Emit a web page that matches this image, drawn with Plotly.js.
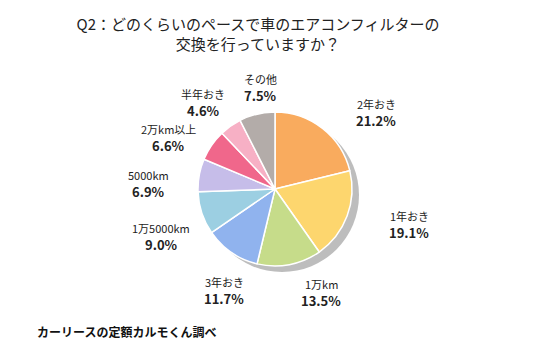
<!DOCTYPE html>
<html>
<head>
<meta charset="utf-8">
<script src="https://cdn.plot.ly/plotly-3.0.1.min.js"></script>
<style>html,body{margin:0;padding:0;background:#fff;}#chart{width:550px;height:351px;}</style>
</head>
<body>
<div id="chart"></div>
<script>
const categories = ["2年おき", "1年おき", "1万km", "3年おき", "1万5000km", "5000km", "2万km以上", "半年おき", "その他"];
const shares = [21.2, 19.1, 13.5, 11.7, 9.0, 6.9, 6.6, 4.6, 7.5];
const sliceColors = ["#f9ab5e", "#fdd66e", "#c6dc8a", "#90b3ee", "#9ccfe2", "#c6bde9", "#f0678b", "#f7b0c5", "#b3aca9"];
const titleText = "Q2：どのくらいのペースで車のエアコンフィルターの<br>交換を行っていますか？";
const sourceText = "カーリースの定額カルモくん調べ";

// label anchor positions (pixels in the 550x351 canvas): [x center, y between the two lines]
const labelPx = [[376,112],[409,224],[321,292],[224,290],[161,236],[148,183],[168,137],[203,102],[260,87]];

const W = 550, H = 351;
const font = "'Noto Sans CJK JP', 'Noto Sans', sans-serif";

const shadow = {
  type: "pie", values: [1], labels: ["shadow"], sort: false,
  marker: {colors: ["#bdbdbd"], line: {width: 0}},
  textinfo: "none", hoverinfo: "skip", showlegend: false,
  domain: {x: [205/W, 359/W], y: [1 - 272/H, 1 - 118/H]}
};
const pie = {
  type: "pie", values: shares, labels: categories, sort: false,
  direction: "clockwise", rotation: 0,
  marker: {colors: sliceColors, line: {color: "#ffffff", width: 1.5}},
  textinfo: "none", showlegend: false,
  domain: {x: [198/W, 352/W], y: [1 - 266/H, 1 - 112/H]}
};

const annotations = [];
categories.forEach((c, i) => {
  const x = labelPx[i][0] / W, y = 1 - labelPx[i][1] / H;
  annotations.push({
    xref: "paper", yref: "paper", x: x, y: y - 1/H,
    xanchor: "center", yanchor: "bottom", showarrow: false, borderpad: 0,
    text: c, font: {family: font, size: 11, color: "#222"}
  });
  annotations.push({
    xref: "paper", yref: "paper", x: x, y: y + 2/H,
    xanchor: "center", yanchor: "top", showarrow: false, borderpad: 0,
    text: "<b>" + shares[i].toFixed(1) + "%</b>", font: {family: font, size: 13, color: "#222"}
  });
});
annotations.push({
  xref: "paper", yref: "paper", x: 35/W, y: 1 - 331/H,
  xanchor: "left", yanchor: "middle", showarrow: false,
  text: "<b>" + sourceText + "</b>",
  font: {family: font, size: 12, color: "#111"}
});

const layout = {
  width: W, height: H,
  margin: {l: 0, r: 0, t: 0, b: 0},
  paper_bgcolor: "#ffffff",
  title: {text: titleText, x: 258/W, xanchor: "center", y: 1 - 30/H, yanchor: "middle",
          font: {family: font, size: 15, color: "#222"}},
  annotations: annotations
};
Plotly.newPlot("chart", [shadow, pie], layout, {displayModeBar: false, staticPlot: true});
</script>
</body>
</html>
